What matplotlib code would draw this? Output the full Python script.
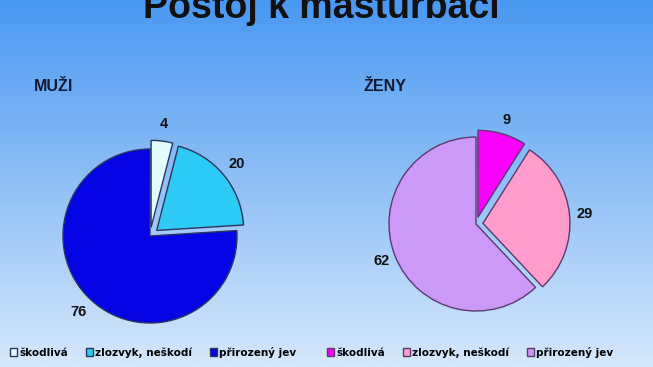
import matplotlib.pyplot as plt
import numpy as np

# Postoj k masturbaci - muži vs. ženy (percent)
categories = ['škodlivá', 'zlozvyk, neškodí', 'přirozený jev']
men = [4, 20, 76]
women = [9, 29, 62]

men_colors = ['#e2fbfd', '#2ccaf5', '#0404e4']
women_colors = ['#fa00fa', '#ff9ccc', '#cc99f8']

W, H = 653, 367
fig = plt.figure(figsize=(W / 100, H / 100), dpi=100)

# blue gradient background
bg = fig.add_axes([0, 0, 1, 1])
top = np.array([0x4a, 0x98, 0xf2]) / 255
bottom = np.array([0xd6, 0xe8, 0xfb]) / 255
t = np.linspace(0, 1, 256)[:, None]
grad = top * (1 - t) + bottom * t
bg.imshow(grad[:, None, :], aspect='auto', extent=[0, 1, 0, 1])
bg.set_xlim(0, 1)
bg.set_ylim(0, 1)
bg.axis('off')

fig.text(321 / W, 1 - 18 / H, 'Postoj k masturbaci', ha='center', va='baseline',
         fontsize=27, fontweight='bold', family='Liberation Sans', color='#111111')
fig.text(34 / W, 1 - 91 / H, 'MUŽI', ha='left', va='baseline',
         fontsize=11.5, fontweight='bold', family='Liberation Sans', color='#101830')
fig.text(363 / W, 1 - 91 / H, 'ŽENY', ha='left', va='baseline',
         fontsize=11.5, fontweight='bold', family='Liberation Sans', color='#101830')

R = 87.0   # pie radius in pixels
half = 125.0


def pie_axes(cx, cy):
    ax = fig.add_axes([(cx - half) / W, (H - cy - half) / H, 2 * half / W, 2 * half / H])
    ax.axis('off')
    return ax


def fix_limits(ax):
    ax.set_xlim(-half / R, half / R)
    ax.set_ylim(-half / R, half / R)


ax1 = pie_axes(150, 236)
w1, t1 = ax1.pie(men, colors=men_colors, explode=[0.1, 0.1, 0], startangle=90,
                 counterclock=False, labels=[str(v) for v in men], labeldistance=1.2,
                 wedgeprops=dict(edgecolor='#2a3560', linewidth=1.0),
                 textprops=dict(fontsize=10.5, fontweight='bold', color='#111111',
                                family='Liberation Sans'))
fix_limits(ax1)
for tx in t1:
    tx.set_ha('center')
    tx.set_va('center')

ax2 = pie_axes(476, 224)
w2, t2 = ax2.pie(women, colors=women_colors, explode=[0.08, 0.08, 0], startangle=90,
                 counterclock=False, labels=[str(v) for v in women], labeldistance=1.17,
                 wedgeprops=dict(edgecolor='#5a3a70', linewidth=1.0),
                 textprops=dict(fontsize=10.5, fontweight='bold', color='#111111',
                                family='Liberation Sans'))
fix_limits(ax2)
for tx in t2:
    tx.set_ha('center')
    tx.set_va('center')

leg_kw = dict(ncol=3, frameon=False, handlelength=0.7, handleheight=0.7,
              handletextpad=0.2, columnspacing=1.7, borderaxespad=0,
              prop=dict(family='DejaVu Sans', weight='bold', size=7.5))
fig.legend(w1, categories, loc='center left', bbox_to_anchor=(6 / W, 1 - 352 / H), **leg_kw)
fig.legend(w2, categories, loc='center left', bbox_to_anchor=(323 / W, 1 - 352 / H), **leg_kw)

fig.savefig('out.png', dpi=100)
